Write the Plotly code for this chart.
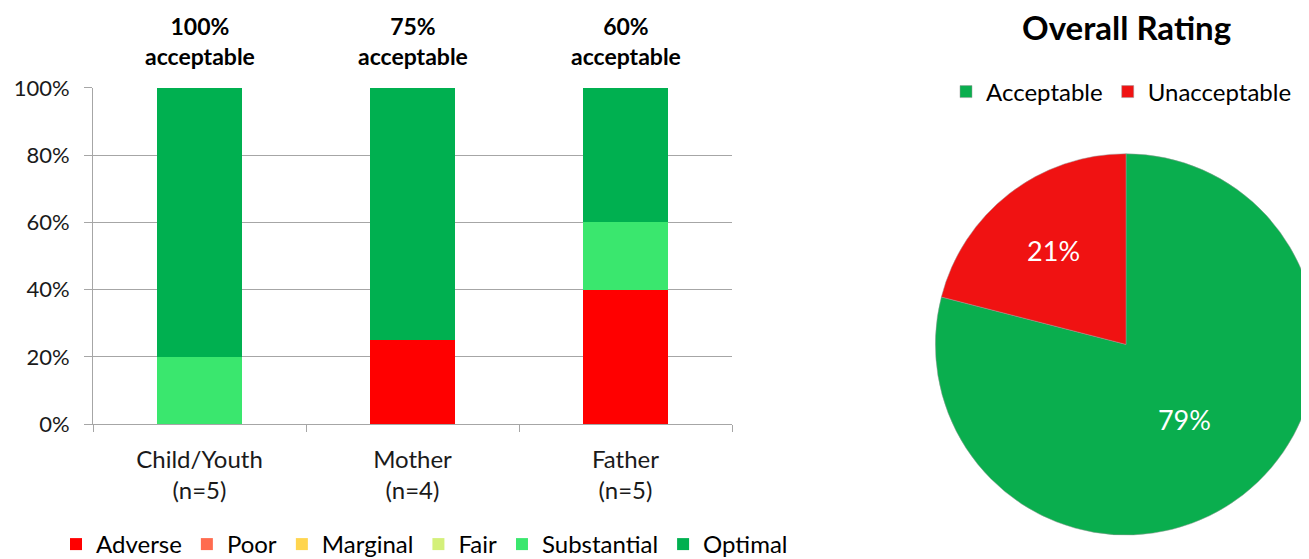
import plotly.graph_objects as go

categories = ["Child/Youth<br>(n=5)", "Mother<br>(n=4)", "Father<br>(n=5)"]
series_names = ["Adverse", "Poor", "Marginal", "Fair", "Substantial", "Optimal"]
adverse = [0, 25, 40]
poor = [0, 0, 0]
marginal = [0, 0, 0]
fair = [0, 0, 0]
substantial = [20, 0, 20]
optimal = [80, 75, 40]
acceptable_labels = ["100%<br>acceptable", "75%<br>acceptable", "60%<br>acceptable"]

pie_labels = ["Acceptable", "Unacceptable"]
pie_values = [79, 21]

colors = {
    "Adverse": "#FF0000",
    "Poor": "#FF6B4F",
    "Marginal": "#FFD54F",
    "Fair": "#D4F07A",
    "Substantial": "#3AE76E",
    "Optimal": "#00B050",
}

FONT = "Lato, 'Open Sans', sans-serif"
W, H = 1309, 559
OFF = 8  # page body margin


def px(x):
    return (x - OFF) / W


def py(y):
    return 1 - (y - OFF) / H


fig = go.Figure()
for name, vals in zip(series_names, [adverse, poor, marginal, fair, substantial, optimal]):
    fig.add_trace(go.Bar(
        x=categories, y=vals, name=name, marker_color=colors[name],
        marker_line_width=0, legend="legend", hoverinfo="skip",
    ))

cx, cy, r = 1126, 345, 191
fig.add_trace(go.Pie(
    labels=pie_labels, values=pie_values, sort=False, direction="clockwise",
    rotation=0, marker=dict(colors=["#0AAE4E", "#F01212"], line=dict(color="#9A9A9A", width=0.5)),
    textinfo="percent", texttemplate="%{value}%", textposition="inside",
    insidetextfont=dict(color="white", size=27, family=FONT),
    domain=dict(x=[px(cx - r), min(1.0, px(cx + r))], y=[py(cy + r), py(cy - r)]),
    legend="legend2", hoverinfo="skip",
))

# annotations above bars
for cat, lab in zip(categories, acceptable_labels):
    fig.add_annotation(x=cat, y=py(41), xref="x", yref="paper", text="<b>" + lab + "</b>",
                       showarrow=False, yanchor="middle", xanchor="center",
                       font=dict(size=23, family=FONT, color="#000000"))

fig.add_annotation(x=px(1126), y=py(27), xref="paper", yref="paper",
                   text="<b>Overall Rating</b>", showarrow=False, yanchor="middle",
                   xanchor="center",
                   font=dict(size=33, family=FONT, color="#000000"))

fig.update_layout(
    width=W, height=H, barmode="stack", bargap=0.6,
    margin=dict(l=0, r=0, t=0, b=0),
    plot_bgcolor="white", paper_bgcolor="white",
    font=dict(family=FONT, color="#262626", size=23),
    xaxis=dict(domain=[px(93), px(732)], showline=True, linecolor="#A6A6A6",
               ticks="outside", tickson="boundaries", ticklen=7, tickcolor="#A6A6A6",
               ticklabelstandoff=14,
               tickfont=dict(size=24, color="#1A1A1A"), automargin=False),
    yaxis=dict(domain=[py(425), py(88)], range=[0, 100], dtick=20, ticksuffix="%",
               showline=True, linecolor="#A6A6A6", ticks="outside", ticklen=8,
               ticklabelstandoff=10,
               tickcolor="#A6A6A6", gridcolor="#A6A6A6", gridwidth=1,
               tickfont=dict(size=22, color="#1A1A1A"), automargin=False, zeroline=False),
    legend=dict(orientation="h", x=px(70) - 14 / W, y=py(545), xanchor="left", yanchor="middle",
                font=dict(size=24, color="#000000"), itemwidth=30, traceorder="normal"),
    legend2=dict(orientation="h", x=px(960) - 14 / W, y=py(92), xanchor="left", yanchor="middle",
                 font=dict(size=24, color="#000000"), itemwidth=30),
)

fig.write_html("out.html")
